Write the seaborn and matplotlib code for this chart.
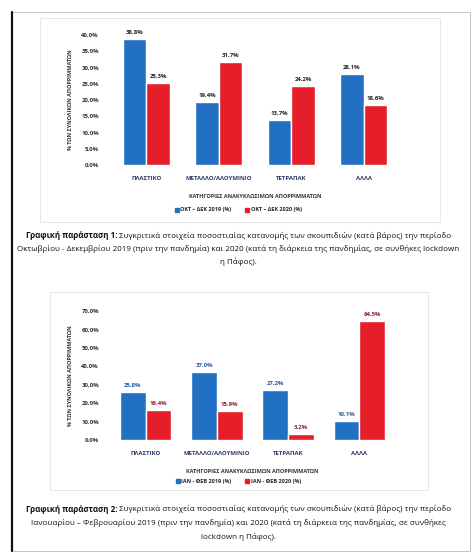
import matplotlib
matplotlib.use("Agg")
import pandas as pd
import matplotlib.pyplot as plt
import seaborn as sns
from matplotlib.patches import Rectangle
from matplotlib.lines import Line2D

# δεδομένα
categories = ['ΠΛΑΣΤΙΚΟ', 'ΜΕΤΑΛΛΟ/ΑΛΟΥΜΙΝΙΟ', 'ΤΕΤΡΑΠΑΚ', 'ΑΛΛΑ']

series1 = ['ΟΚΤ – ΔΕΚ 2019 (%)', 'ΟΚΤ – ΔΕΚ 2020 (%)']
values1_2019 = [38.8, 19.4, 13.7, 28.1]
values1_2020 = [25.3, 31.7, 24.2, 18.6]
yticks1 = [0, 5, 10, 15, 20, 25, 30, 35, 40]

series2 = ['ΙΑΝ - ΦΕΒ 2019 (%)', 'ΙΑΝ - ΦΕΒ 2020 (%)']
values2_2019 = [25.8, 37.0, 27.2, 10.1]
values2_2020 = [16.4, 15.9, 3.2, 64.5]
yticks2 = [0, 10, 20, 30, 40, 50, 60, 70]

caption1_bold = 'Γραφική παράσταση 1:'
caption1 = [' Συγκριτικά στοιχεία ποσοστιαίας κατανομής των σκουπιδιών (κατά βάρος) την περίοδο',
            'Οκτωβρίου - Δεκεμβρίου 2019 (πριν την πανδημία) και 2020 (κατά τη διάρκεια της πανδημίας, σε συνθήκες lockdown',
            'η Πάφος).']
caption2_bold = 'Γραφική παράσταση 2:'
caption2 = [' Συγκριτικά στοιχεία ποσοστιαίας κατανομής των σκουπιδιών (κατά βάρος) την περίοδο',
            'Ιανουαρίου – Φεβρουαρίου 2019 (πριν την πανδημία) και 2020 (κατά τη διάρκεια της πανδημίας, σε συνθήκες',
            'lockdown η Πάφος).']

ylabel = '% ΤΩΝ ΣΥΝΟΛΙΚΩΝ ΑΠΟΡΡΙΜΜΑΤΩΝ'
xlabel = 'ΚΑΤΗΓΟΡΙΕΣ ΑΝΑΚΥΚΛΩΣΙΜΩΝ ΑΠΟΡΡΙΜΜΑΤΩΝ'

BLUE = '#2270c4'
RED = '#e61e2a'
CAP_SIZE = 5.8

sns.set_style('white')
plt.rcParams['font.family'] = ['Open Sans', 'DejaVu Sans']


def pct(v):
    return f'{v:.1f}%'.replace('.', ',')


def draw_chart(ax, series, v19, v20, yticks, ymax, width, lab_colors):
    df = pd.DataFrame({
        'cat': categories * 2,
        'series': [series[0]] * 4 + [series[1]] * 4,
        'value': v19 + v20,
    })
    sns.barplot(data=df, x='cat', y='value', hue='series', palette=[BLUE, RED],
                width=width, ax=ax, legend=False, saturation=1)
    for cont, c in zip(ax.containers, lab_colors):
        ax.bar_label(cont, labels=[pct(v) for v in cont.datavalues], padding=3,
                     fontsize=4.3, fontweight='bold', color=c)
        for b in cont:
            b.set_clip_on(False)
    ax.set_ylim(0, ymax)
    ax.set_yticks(yticks)
    ax.set_yticklabels([pct(t) for t in yticks], fontsize=4.3, fontweight='bold', color='#333333')
    ax.set_xticks(range(len(categories)))
    ax.set_xticklabels(categories, fontsize=4.3, fontweight='bold', color='#2a3a66')
    ax.set_xlabel(xlabel, fontsize=4, fontweight='bold', color='#333333', labelpad=9)
    ax.set_ylabel(ylabel, fontsize=4, fontweight='bold', color='#333333', labelpad=6)
    ax.tick_params(axis='both', length=0, pad=8)
    sns.despine(ax=ax, left=True, bottom=True)


fig = plt.figure(figsize=(4.77, 5.55), dpi=100)

# πλαίσιο σελίδας
fig.add_artist(Rectangle((12 / 477, 4 / 555), 458 / 477, 539 / 555, transform=fig.transFigure,
                         fill=False, edgecolor='#bbbbbb', lw=0.6))
fig.add_artist(Line2D([12 / 477, 12 / 477], [4 / 555, 543 / 555], transform=fig.transFigure,
                      color='#111111', lw=1.6))
# πλαίσια γραφημάτων
fig.add_artist(Rectangle((40 / 477, 1 - 222 / 555), 400 / 477, 204 / 555, transform=fig.transFigure,
                         fill=False, edgecolor='#e4e4e4', lw=0.6))
fig.add_artist(Rectangle((50 / 477, 1 - 490 / 555), 378 / 477, 198 / 555, transform=fig.transFigure,
                         fill=False, edgecolor='#e4e4e4', lw=0.6))

ax1 = fig.add_axes([110 / 477, 1 - 165 / 555, 290 / 477, 130 / 555])
draw_chart(ax1, series1, values1_2019, values1_2020, yticks1, 40, 0.65, ['#222222', '#222222'])

ax2 = fig.add_axes([110 / 477, 1 - 440 / 555, 285 / 477, 129 / 555])
draw_chart(ax2, series2, values2_2019, values2_2020, yticks2, 70, 0.72, ['#2a5a9a', '#8a2030'])

# υπόμνημα
for y, series in [(1 - 210 / 555, series1), (1 - 481 / 555, series2)]:
    handles = [Rectangle((0, 0), 1, 1, color=BLUE), Rectangle((0, 0), 1, 1, color=RED)]
    fig.legend(handles, series, loc='center', bbox_to_anchor=(0.5, y), ncol=2, frameon=False,
               prop={'size': 4, 'weight': 'bold'}, handlelength=0.7, handleheight=0.7,
               columnspacing=2.5, handletextpad=0.3)

# λεζάντες
def caption(bold, lines, ys):
    fig.canvas.draw()
    r = fig.canvas.get_renderer()
    tb = fig.text(0, ys[0], bold, fontsize=CAP_SIZE, fontweight='bold', va='center', color='#111111')
    tr = fig.text(0, ys[0], lines[0], fontsize=CAP_SIZE, va='center', color='#111111')
    wb = tb.get_window_extent(r).width
    wr = tr.get_window_extent(r).width
    x0 = (477 - wb - wr) / 2 / 477
    tb.set_x(x0)
    tr.set_x(x0 + wb / 477)
    for line, y in zip(lines[1:], ys[1:]):
        fig.text(0.5, y, line, fontsize=CAP_SIZE, ha='center', va='center', color='#111111')


caption(caption1_bold, caption1, [1 - 236 / 555, 1 - 249 / 555, 1 - 262 / 555])
caption(caption2_bold, caption2, [1 - 509 / 555, 1 - 523 / 555, 1 - 537 / 555])

fig.savefig('out.png', dpi=100)
